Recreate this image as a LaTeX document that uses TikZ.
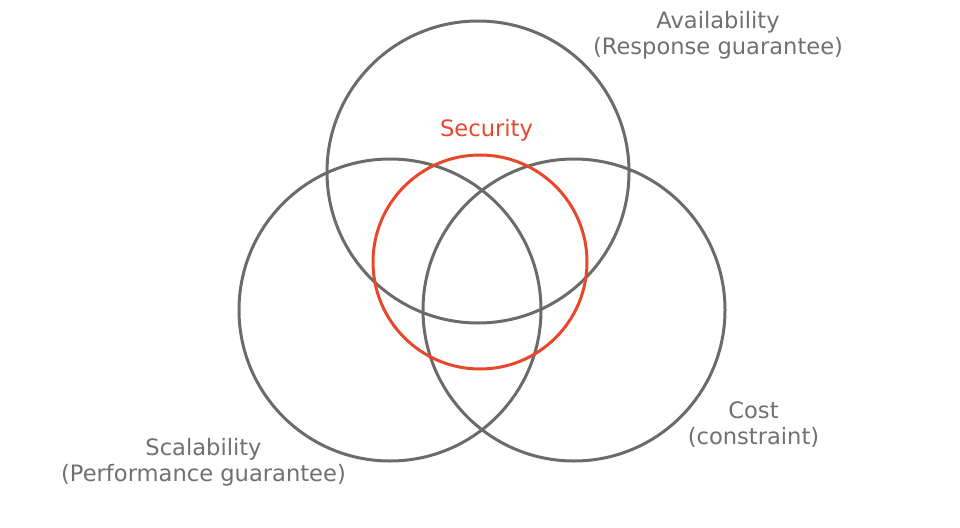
\documentclass[tikz,border=0pt]{standalone}
\usepackage{fontspec}
\setmainfont{DejaVu Sans}
\definecolor{ringgray}{HTML}{6B6B6B}
\definecolor{textgray}{HTML}{707070}
\definecolor{secred}{HTML}{E8472B}

\begin{document}
\begin{tikzpicture}[x=1pt,y=-1pt,
  ring/.style={circle,draw=ringgray,line width=3pt,minimum size=302pt,inner sep=0pt},
  lbl/.style={text=textgray,align=center,inner sep=0pt,font=\fontsize{22.6}{26}\selectfont}]
  \useasboundingbox (0,0) rectangle (960,527);
  % circles
  \node[ring] (avail) at (478,172) {};
  \node[ring] (scal) at (390,310) {};
  \node[ring] (cost) at (574,310) {};
  \node[ring,draw=secred,minimum size=214pt] (sec) at (480,262) {};
  % labels
  \node[lbl] (availtxt) at (718,35) {Availability\\(Response guarantee)};
  \node[lbl,text=secred] (sectxt) at (486.5,130) {Security};
  \node[lbl] (scaltxt) at (203.5,462) {Scalability\\(Performance guarantee)};
  \node[lbl] (costtxt) at (753.5,425) {Cost\\(constraint)};
\end{tikzpicture}
\end{document}
